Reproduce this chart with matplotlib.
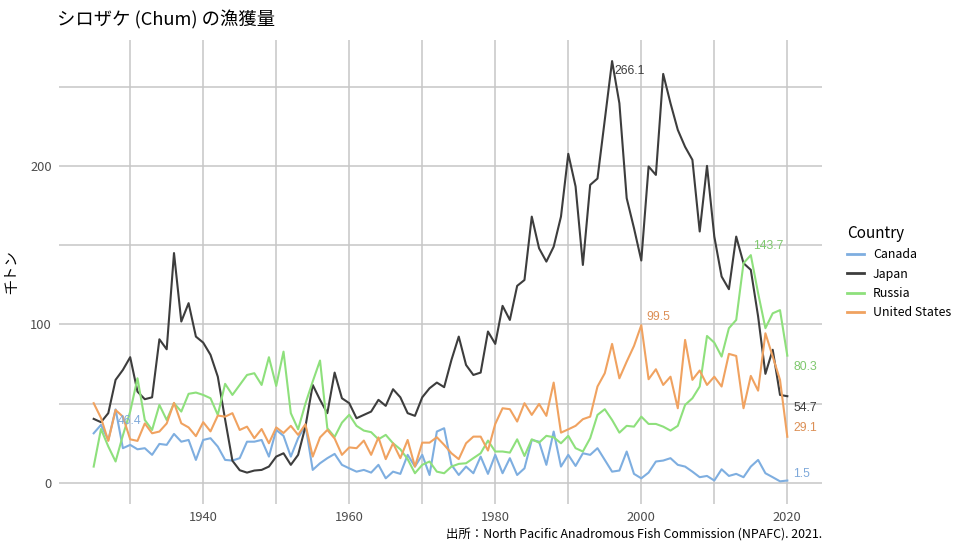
import matplotlib
matplotlib.use("Agg")
import matplotlib.pyplot as plt
import numpy as np

plt.rcParams['font.family'] = ['Noto Sans CJK JP', 'DejaVu Sans']

years = list(range(1925, 2021))

canada = [31.3, 36.6, 27, 46.4, 21.9, 24, 21.2, 21.9, 17.7, 24.6,
          24, 30.9, 26, 27.1, 14.5, 27.1, 28.2, 22.9, 14.5, 14.1,
          15.6, 26, 26, 27.1, 16.6, 33.4, 29.7, 16.6, 28.2, 36.6,
          8.2, 12.4, 15.6, 18.3, 11.4, 9.2, 7.1, 8.2, 6.5, 11.4,
          2.9, 7.1, 5.7, 17.7, 10.3, 17.7, 5, 32.4, 34.5, 11.4,
          5, 10.3, 6.1, 16.6, 5.7, 17.7, 6.1, 15.6, 5, 9.2,
          27.1, 26, 11.4, 32.4, 10.3, 17.7, 10.7, 18.7, 17.7, 21.9,
          14.5, 7.1, 7.8, 19.8, 5.7, 2.9, 6.5, 13.5, 14.1, 15.6,
          11.4, 10.3, 7.1, 3.6, 4.4, 1.5, 8.6, 4.4, 5.7, 3.6,
          10.3, 14.5, 6.1, 3.6, 1.0, 1.5]

japan = [40.4, 38.3, 44, 65, 71.3, 79.3, 57.6, 52.8, 54, 90.6,
         84.3, 145, 101.8, 113.4, 92.3, 88.5, 80.8, 67, 40, 14,
         8, 6.5, 7.8, 8.2, 10.3, 16.6, 18.7, 11.4, 17.7, 35.5,
         61.8, 52.4, 44, 69.6, 53.4, 50.3, 40.8, 42.9, 45, 52.4,
         48.6, 59.1, 54, 44, 42.3, 54, 59.7, 63.3, 60.4, 77.6,
         92.3, 74.4, 68.1, 69.6, 95.5, 87.7, 111.7, 102.8, 124.3, 128,
         168, 148, 139.6, 149, 168, 207.6, 187, 137.5, 188, 192,
         229, 266.1, 239.5, 179.6, 160.7, 140.3, 199.6, 194.3, 258, 239.5,
         222.7, 212, 203.8, 158.6, 200, 155.4, 130.2, 122.2, 155.4, 138.6,
         134.4, 105, 68.8, 84, 55.5, 54.7]

russia = [10.3, 34, 23, 13.5, 30, 45, 66, 39.7, 33.4, 49.2,
          39.7, 50.3, 45, 56.2, 57, 55.5, 53.4, 42.9, 62.5, 55.5,
          61.8, 68.1, 69.2, 61.8, 79.3, 61.2, 82.8, 44, 33.8, 50,
          64, 77.2, 34.5, 29, 38, 43, 36, 33, 32, 27.5,
          30.3, 25, 21.2, 15, 6.1, 11.4, 13.5, 7.1, 6.1, 10.3,
          12, 12.4, 15.6, 18.7, 26.7, 19.8, 19.8, 19.1, 27.5, 17,
          27.5, 25.4, 29.7, 28.8, 25, 29.7, 21.9, 19.8, 28.2, 42.9,
          46.5, 39.7, 31.7, 36, 35.5, 41.8, 37.2, 37.2, 35.5, 33,
          36, 49.2, 53.4, 60.8, 92.7, 88.5, 79.7, 97.6, 102.8, 138.6,
          143.7, 119.7, 97.6, 107, 109, 80.3]

united_states = [50.3, 41, 26.5, 46, 41.8, 27.5, 26.5, 37.5, 31.3, 32.4,
                 37.5, 50.5, 37.6, 35, 29.5, 38.3, 32.5, 42.5, 41.8, 44,
                 33.4, 35.5, 28.2, 34, 25, 35, 31.5, 36, 30.3, 37,
                 16.6, 28.7, 33.4, 28, 17.7, 22.4, 21.9, 26.7, 17.7, 28.7,
                 15, 25, 15.6, 27.1, 10.3, 25.4, 25.4, 28.8, 24, 18.7,
                 15, 25, 29.2, 29.2, 20.4, 37.2, 47.1, 46.5, 38.7, 50.3,
                 42.9, 49.8, 42.3, 63.3, 31.7, 33.8, 36, 40.2, 41.8, 60.8,
                 69.2, 87.7, 66, 76.5, 86.4, 99.5, 65.4, 71.7, 61.8, 67,
                 47.1, 90.2, 65, 70.9, 61.8, 67, 60.8, 81.4, 80.1, 47.1,
                 67.5, 58.2, 94.4, 79.7, 65, 29.1]

countries = ["Canada", "Japan", "Russia", "United States"]
series = [canada, japan, russia, united_states]
line_colors = ["#7eaee0", "#3d3d3d", "#8ee07c", "#f0a260"]
label_colors = ["#7fa9da", "#3d3d3d", "#7fc86e", "#dc8f55"]

title = "シロザケ (Chum) の漁獲量"
ylabel = "千トン"
caption = "出所：North Pacific Anadromous Fish Commission (NPAFC). 2021."

# label offsets in pixels (dx, dy) for max and last labels; dy positive = down
max_off = [(2, 12), (2, 10), (2.5, -9), (5, -8)]
last_off = [(6, -7), (6, 12), (6, 11), (6, -8.6)]

DPI = 100
fig = plt.figure(figsize=(9.56, 5.43), dpi=DPI)
ax = fig.add_axes([59/956, 1-504/543, (822-59)/956, (504-40)/543])

for name, vals, c in zip(countries, series, line_colors):
    ax.plot(years, vals, color=c, lw=1.5, label=name, solid_joinstyle='round')

px2pt = 72 / DPI
for vals, lc, mo, lo in zip(series, label_colors, max_off, last_off):
    arr = np.asarray(vals)
    i = int(np.argmax(arr))
    ax.annotate(f"{arr[i]:.1f}", (years[i], arr[i]), xytext=(mo[0]*px2pt, -mo[1]*px2pt),
                textcoords='offset points', ha='left', va='center', color=lc, fontsize=8.8,
                family=['Liberation Sans', 'DejaVu Sans'])
    ax.annotate(f"{arr[-1]:.1f}", (years[-1], arr[-1]), xytext=(lo[0]*px2pt, -lo[1]*px2pt),
                textcoords='offset points', ha='left', va='center', color=lc, fontsize=8.8,
                family=['Liberation Sans', 'DejaVu Sans'])

xr = years[-1] - years[0]
ax.set_xlim(years[0] - 0.05*xr, years[-1] + 0.05*xr)
ymax = max(max(s) for s in series)
ax.set_ylim(-0.05*ymax, ymax*1.05)

ax.set_xticks([1940, 1960, 1980, 2000, 2020])
ax.set_xticks([1930, 1950, 1970, 1990, 2010], minor=True)
ax.set_yticks([0, 100, 200])
ax.set_yticks([50, 150, 250], minor=True)
ax.grid(True, which='both', color='#c6c6c6', lw=1.1)
ax.set_axisbelow(True)
for s in ax.spines.values():
    s.set_visible(False)
ax.tick_params(which='both', length=0, labelsize=9.3, labelcolor='#4d4d4d', pad=5)

ax.set_ylabel(ylabel, fontsize=10.5, labelpad=8)
fig.text(57/956, 1-20/543, title, fontsize=13.2, ha='left', va='center')
fig.text(822/956, 1-535/543, caption, fontsize=8.9, ha='right', va='center')

leg = ax.legend(title="Country", loc='center left', bbox_to_anchor=(836/956, 1-272/543),
                bbox_transform=fig.transFigure, frameon=False, fontsize=8.9,
                title_fontsize=11, handlelength=1.4, handletextpad=0.7, labelspacing=0.52)
leg._legend_box.align = "left"
for h in leg.get_lines():
    h.set_linewidth(2)

fig.savefig("out.png", dpi=DPI)
